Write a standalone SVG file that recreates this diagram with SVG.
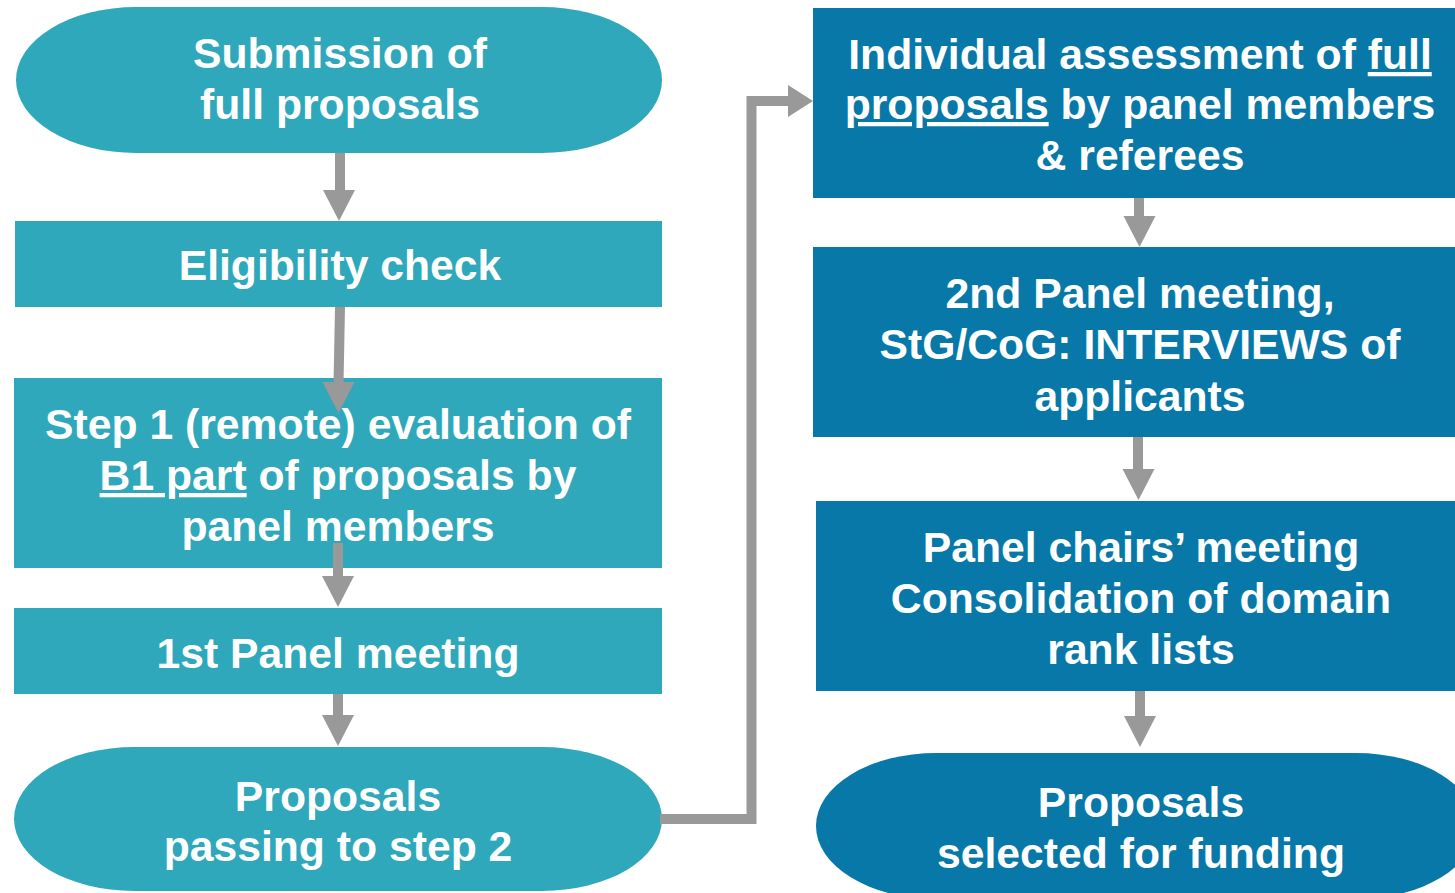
<svg xmlns="http://www.w3.org/2000/svg" width="1455" height="893" viewBox="0 0 1455 893">
  <style>
    .teal { fill: #2EA8BA; }
    .blue { fill: #0878A8; }
    .label { fill: #FFFFFF; font-family: "Liberation Sans", Arial, sans-serif; font-weight: bold; font-size: 42.7px; text-anchor: middle; }
    .u { text-decoration: underline; }
    .shaft { stroke: #999999; stroke-width: 10; fill: none; }
    .head { fill: #999999; }
  </style>
  <defs>
    <!-- down-pointing arrowhead, tip at origin -->
    <polygon id="headDown" class="head" points="-16,-31 16,-31 0,0"/>
  </defs>

  <rect width="1455" height="893" fill="#FFFFFF"/>

  <!-- left column -->
  <g id="submission">
    <rect class="teal" x="16" y="7" width="646" height="146" rx="120" ry="73"/>
    <text class="label" x="340" y="68">Submission of</text>
    <text class="label" x="340" y="119">full proposals</text>
  </g>

  <g id="eligibility">
    <rect class="teal" x="15" y="221" width="647" height="86"/>
    <text class="label" x="340" y="280">Eligibility check</text>
  </g>

  <g id="step1">
    <rect class="teal" x="14" y="378" width="648" height="190"/>
    <text class="label" x="338" y="439">Step 1 (remote) evaluation of</text>
    <text class="label" x="338" y="490"><tspan class="u">B1 part</tspan> of proposals by</text>
    <text class="label" x="338" y="541">panel members</text>
  </g>

  <g id="panel1">
    <rect class="teal" x="14" y="608" width="648" height="86"/>
    <text class="label" x="338" y="668">1st Panel meeting</text>
  </g>

  <g id="passing">
    <rect class="teal" x="14" y="747" width="648" height="144" rx="120" ry="72"/>
    <text class="label" x="338" y="811">Proposals</text>
    <text class="label" x="338" y="861">passing to step 2</text>
  </g>

  <!-- right column -->
  <g id="individual">
    <rect class="blue" x="813" y="8" width="660" height="190"/>
    <text class="label" x="1140" y="69">Individual assessment of <tspan class="u">full</tspan></text>
    <text class="label" x="1140" y="119"><tspan class="u">proposals</tspan> by panel members</text>
    <text class="label" x="1140" y="170">&amp; referees</text>
  </g>

  <g id="panel2">
    <rect class="blue" x="813" y="247" width="660" height="190"/>
    <text class="label" x="1140" y="308">2nd Panel meeting,</text>
    <text class="label" x="1140" y="359">StG/CoG: INTERVIEWS of</text>
    <text class="label" x="1140" y="411">applicants</text>
  </g>

  <g id="chairs">
    <rect class="blue" x="816" y="501" width="660" height="190"/>
    <text class="label" x="1141" y="562">Panel chairs’ meeting</text>
    <text class="label" x="1141" y="613">Consolidation of domain</text>
    <text class="label" x="1141" y="664">rank lists</text>
  </g>

  <g id="selected">
    <rect class="blue" x="816" y="753" width="660" height="146" rx="120" ry="73"/>
    <text class="label" x="1141" y="817">Proposals</text>
    <text class="label" x="1141" y="868">selected for funding</text>
  </g>

  <!-- connectors, drawn over the boxes they touch -->
  <g id="connectors">
    <line class="shaft" x1="340" y1="153" x2="340" y2="192"/>
    <use href="#headDown" x="339" y="221"/>

    <line class="shaft" x1="340" y1="307" x2="338.5" y2="384"/>
    <use href="#headDown" x="338.5" y="413"/>

    <line class="shaft" x1="338" y1="543" x2="338" y2="578"/>
    <use href="#headDown" x="338" y="607"/>

    <line class="shaft" x1="338" y1="694" x2="338" y2="717"/>
    <use href="#headDown" x="338" y="746"/>

    <polyline class="shaft" points="660,819 751.5,819 751.5,101 790,101"/>
    <polygon class="head" points="788,85 813,101 788,117"/>

    <line class="shaft" x1="1139" y1="198" x2="1139" y2="217"/>
    <use href="#headDown" x="1139.5" y="247"/>

    <line class="shaft" x1="1138" y1="437" x2="1138" y2="470"/>
    <use href="#headDown" x="1138.5" y="500"/>

    <line class="shaft" x1="1140" y1="691" x2="1140" y2="717"/>
    <use href="#headDown" x="1140" y="747"/>
  </g>
</svg>
